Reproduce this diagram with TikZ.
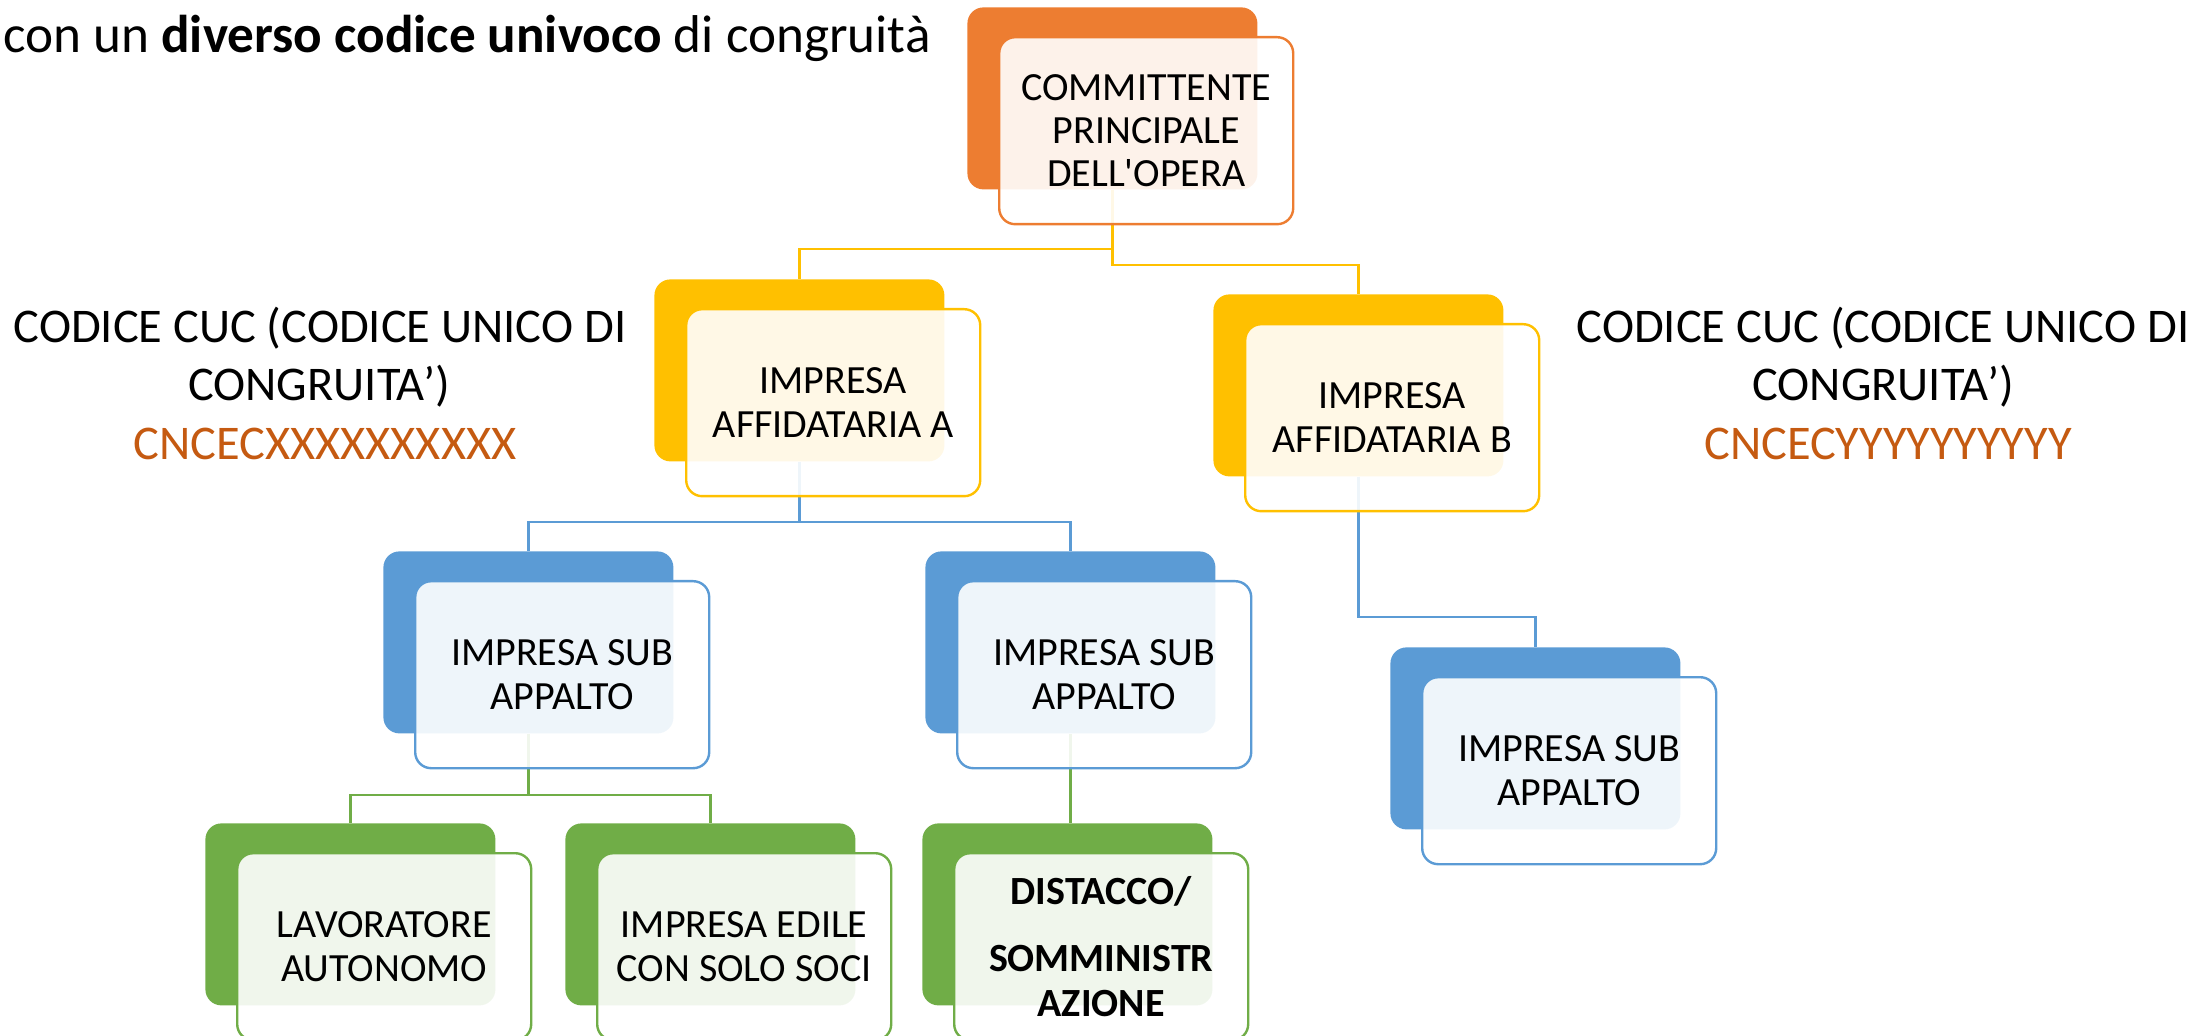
\documentclass[tikz,border=0pt]{standalone}
\usepackage{fontspec}
\setmainfont{Carlito}[Ligatures=TeXOff]
\definecolor{corange}{HTML}{ED7D31}
\definecolor{cgold}{HTML}{FFC000}
\definecolor{cblue}{HTML}{5B9BD5}
\definecolor{cgreen}{HTML}{70AD47}
\definecolor{ccode}{HTML}{C55A11}
\tikzset{
  backbox/.style={rectangle, rounded corners=8pt, minimum width=145pt, minimum height=91pt, inner sep=0pt, anchor=north west},
  frontbox/.style={rectangle, rounded corners=8pt, minimum width=147pt, minimum height=93.5pt, inner sep=0pt, anchor=north west, fill=white, fill opacity=0.9, text opacity=1, line width=1.2pt, align=center, font=\fontsize{20}{21.7}\selectfont},
  conn/.style={line width=1.2pt},
  sidetext/.style={anchor=base, inner sep=0pt, font=\fontsize{24.2}{29}\selectfont},
}
\begin{document}
\begin{tikzpicture}[x=0.5pt, y=-0.5pt]
\useasboundingbox (0,0) rectangle (2204,1036);

% top text
\node[anchor=base west, inner sep=0pt, font=\fontsize{26.6}{30}\selectfont] (toptext) at (3,53) {con un \textbf{diverso codice univoco} di congruità};

% back boxes
\node[backbox, fill=corange] (Cb) at (967,7) {};
\node[backbox, fill=cgold] (Ab) at (654,279) {};
\node[backbox, fill=cgold] (Bb) at (1213,294) {};
\node[backbox, fill=cblue] (S1b) at (383,551) {};
\node[backbox, fill=cblue] (S2b) at (925,551) {};
\node[backbox, fill=cblue] (S3b) at (1390,647) {};
\node[backbox, fill=cgreen] (Lb) at (205,823) {};
\node[backbox, fill=cgreen] (Eb) at (565,823) {};
\node[backbox, fill=cgreen] (Db) at (922,823) {};

% connectors
\draw[conn, cgold] (Cb.south) -- ++(0,59) -| (Ab.north);
\draw[conn, cgold] (Cb.south) -- ++(0,75) -| (Bb.north);
\draw[conn, cblue] (Ab.south) -- ++(0,60) -| (S1b.north);
\draw[conn, cblue] (Ab.south) -- ++(0,60) -| (S2b.north);
\draw[conn, cblue] (Bb.south) -- ++(0,140) -| (S3b.north);
\draw[conn, cgreen] (S1b.south) -- ++(0,61) -| (Lb.north);
\draw[conn, cgreen] (S1b.south) -- ++(0,61) -| (Eb.north);
\draw[conn, cgreen] (S2b.south) -- (S2b.south |- Db.north);

% front boxes
\node[frontbox, draw=corange] (C) at (998,36) {COMMITTENTE\\PRINCIPALE\\DELL'OPERA};
\node[frontbox, draw=cgold] (A) at (685,308) {IMPRESA\\AFFIDATARIA A};
\node[frontbox, draw=cgold] (B) at (1244,323) {IMPRESA\\AFFIDATARIA B};
\node[frontbox, draw=cblue] (S1) at (414,580) {IMPRESA SUB\\APPALTO};
\node[frontbox, draw=cblue] (S2) at (956,580) {IMPRESA SUB\\APPALTO};
\node[frontbox, draw=cblue] (S3) at (1421,676) {IMPRESA SUB\\APPALTO};
\node[frontbox, draw=cgreen] (L) at (236,852) {LAVORATORE\\AUTONOMO};
\node[frontbox, draw=cgreen] (E) at (596,852) {IMPRESA EDILE\\CON SOLO SOCI};
\node[frontbox, draw=cgreen, font=\fontsize{20}{22.5}\selectfont\bfseries] (D) at (953,852) {DISTACCO/\\[10.8pt]SOMMINISTR\\AZIONE};

% side texts
\node[sidetext] (la1) at (320,343) {CODICE CUC (CODICE UNICO DI};
\node[sidetext] (la2) at (319,401) {CONGRUITA’)};
\node[sidetext, text=ccode] (la3) at (325,460) {CNCECXXXXXXXXXX};
\node[sidetext] (ra1) at (1883,343) {CODICE CUC (CODICE UNICO DI};
\node[sidetext] (ra2) at (1883,401) {CONGRUITA’)};
\node[sidetext, text=ccode] (ra3) at (1888,460) {CNCECYYYYYYYYYY};
\end{tikzpicture}
\end{document}
